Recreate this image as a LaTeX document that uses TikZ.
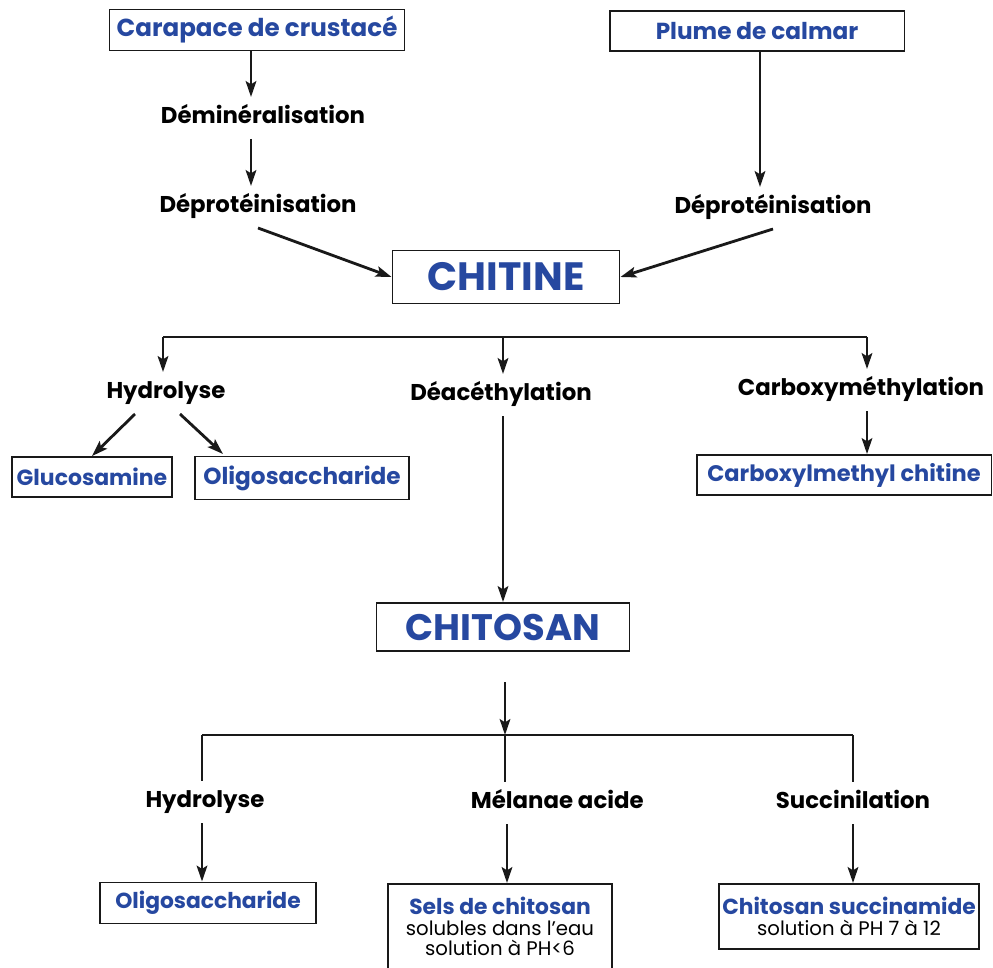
\documentclass[tikz,border=0pt]{standalone}
\usepackage{fontspec}
\setmainfont{Poppins}
\usetikzlibrary{arrows.meta}
\definecolor{bleuTitre}{RGB}{38,72,160}
\definecolor{traitGris}{RGB}{25,25,25}
\newcommand\petitTexte{\mdseries\fontsize{11.2}{12.5}\selectfont\color{black}}

\begin{document}
\begin{tikzpicture}[x=0.02cm, y=-0.02cm, % 1 单位 = 参考图中 1 像素，y 向下
    every node/.style={font=\bfseries\fontsize{13}{15}\selectfont}, % 统一字体
    boite/.style={draw=traitGris, line width=1.1pt, inner sep=0pt, text=bleuTitre, fill=white,
                  font=\bfseries\fontsize{13.2}{15}\selectfont},
    boiteBas/.style={boite, font=\bfseries\fontsize{12.4}{14}\selectfont}, % 底部产物框
    etape/.style={inner sep=6pt, text height=9pt, text depth=2.5pt},
    grosTitre/.style={boite, font=\bfseries\fontsize{22.5}{26}\selectfont},
    fleche/.style={line width=1.6pt, draw=traitGris, -{Stealth[length=9pt, width=6pt, inset=1.8pt]}},
    trait/.style={line width=1.6pt, draw=traitGris}
  ]
  \useasboundingbox (0,0) rectangle (993,967); % 固定边界，与参考图比例一致

  % 原料
  \node[boite, minimum width=5.9cm, minimum height=0.82cm, font=\bfseries\fontsize{14}{16}\selectfont] (carapace) at (257,30) {Carapace de crustacé};
  \node[boite, minimum width=5.9cm, minimum height=0.8cm] (plume) at (757,31) {Plume de calmar};

  % 提取步骤
  \node[etape] (demin) at (263,118) {Déminéralisation};
  \node[etape] (deprotA) at (258,207) {Déprotéinisation};
  \node[etape] (deprotB) at (773,208) {Déprotéinisation};

  \node[grosTitre, minimum width=4.54cm, minimum height=1.06cm] (chitine) at (506,277) {CHITINE};

  % 竖直箭头所在的列
  \coordinate (colA) at (251,0);
  \coordinate (colB) at (760,0);
  \coordinate (colC) at (507,0);

  \draw[fleche] (carapace.south -| colA) -- (demin.north -| colA);
  \draw[fleche] (demin.south -| colA) -- (deprotA.north -| colA);
  \draw[fleche] (plume.south -| colB) -- (deprotB.north -| colB);
  \draw[fleche] (deprotA.south) -- (chitine.west);
  \draw[fleche] (deprotB.south) -- (chitine.east);

  % CHITINE 下面的分支
  \coordinate (barreA_g) at (163,337);
  \coordinate (barreA_m) at (503,337);
  \coordinate (barreA_d) at (867,337);
  \draw[trait] (barreA_g) -- (barreA_d);

  \node[etape] (hydroA) at (166,393) {Hydrolyse};
  \node[etape] (deac) at (501,395) {Déacéthylation};
  \node[etape] (carboxy) at (861,390) {Carboxyméthylation};

  \draw[fleche] (barreA_g) -- (hydroA.north -| barreA_g);
  \draw[fleche] (barreA_m) -- (deac.north -| barreA_m);
  \draw[fleche] (barreA_d) -- (carboxy.north -| barreA_d);

  \node[boite, minimum width=3.2cm, minimum height=0.8cm, font=\bfseries\fontsize{12.5}{14}\selectfont] (glucos) at (92,477) {Glucosamine};
  \node[boite, minimum width=4.28cm, minimum height=0.86cm] (oligoA) at (302,478) {Oligosaccharide};
  \node[boite, minimum width=5.9cm, minimum height=0.8cm, font=\bfseries\fontsize{12.8}{15}\selectfont] (cmchit) at (844,475) {Carboxylmethyl chitine};

  \draw[fleche] (hydroA.south) ++(-31,0) -- (glucos.north);
  \draw[fleche] (hydroA.south) ++(14,0) -- ++(43,40); % 指向 Oligosaccharide
  \draw[fleche] (carboxy.south -| barreA_d) -- (cmchit.north -| barreA_d);

  % CHITOSAN
  \node[grosTitre, minimum width=5.06cm, minimum height=0.96cm, font=\bfseries\fontsize{21}{24}\selectfont] (chitosan) at (503,627) {CHITOSAN};
  \draw[fleche] (deac.south -| chitosan.north) -- (chitosan.north);

  \coordinate (departB) at (505,682);
  \coordinate (barreB_g) at (202,735);
  \coordinate (barreB_m) at (505,735);
  \coordinate (barreB_d) at (853,735);
  \draw[fleche] (departB) -- (barreB_m);
  \draw[trait] (barreB_g) -- (barreB_d);

  \node[etape] (hydroB) at (205,802) {Hydrolyse};
  \node[etape, anchor=west] (melange) at (460,803) {Mélanae acide};
  \node[etape] (succin) at (853,803) {Succinilation};

  \draw[trait] (barreB_g) -- (hydroB.north -| barreB_g);
  \draw[trait] (barreB_m) -- (melange.north -| barreB_m);
  \draw[trait] (barreB_d) -- (succin.north -| barreB_d);

  % 最终产物
  \node[boiteBas, minimum width=4.32cm, minimum height=0.82cm] (oligoB) at (208,903) {Oligosaccharide};
  \node[boiteBas, anchor=north, minimum width=4.48cm, minimum height=1.7cm, align=center] (sels) at (500,883)
      {Sels de chitosan\\[-2pt] \petitTexte solubles dans l'eau\\[-3pt] \petitTexte solution à PH<6};
  \node[boiteBas, anchor=north, minimum width=5.2cm, minimum height=1.3cm, align=center] (succam) at (849,883)
      {Chitosan succinamide\\[-2pt] \petitTexte solution à PH 7 à 12};

  \draw[fleche] (hydroB.south -| barreB_g) -- (oligoB.north -| barreB_g);
  \draw[fleche] (melange.south -| colC) -- (sels.north -| colC);
  \draw[fleche] (succin.south) -- (succam.north -| succin.south);

\end{tikzpicture}
\end{document}
